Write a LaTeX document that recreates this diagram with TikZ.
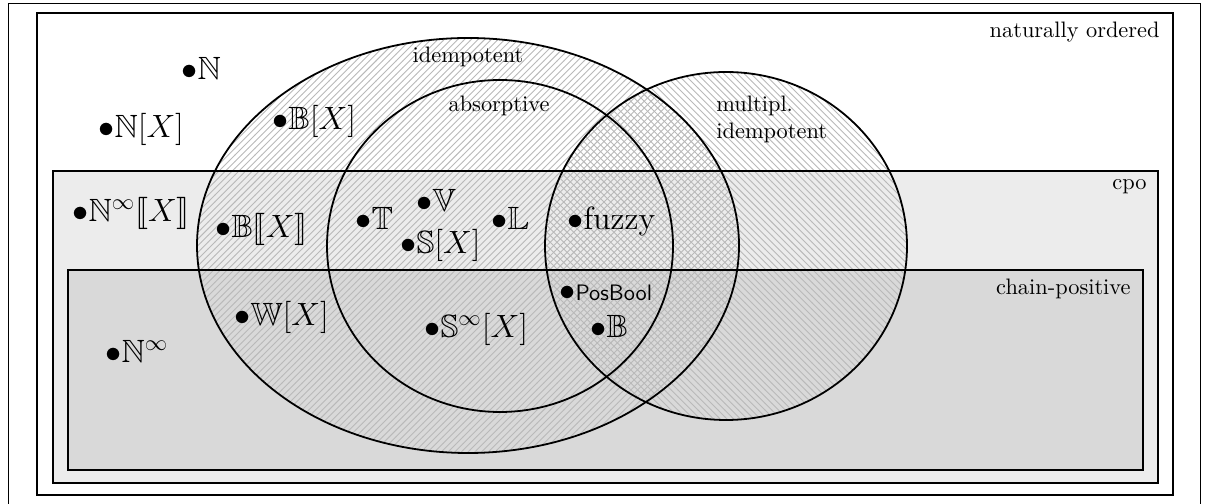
\documentclass[tikz,border=0pt]{standalone}
\usepackage{amssymb}
\usepackage{stmaryrd}
\usetikzlibrary{patterns}
\begin{document}
\begin{tikzpicture}[x=0.44703pt, y=-0.44703pt,
  frameline/.style={line width=0.4pt},
  setline/.style={line width=0.8pt},
  elt/.style={anchor=base west, inner sep=0pt, font=\Large, xshift=-3.6pt, yshift=-3.6pt},
  tag/.style={inner sep=0pt},
]
\useasboundingbox (0,0) rectangle (1208,504);

% region fills
\fill[gray!15] (53,171) rectangle (1158,483);
\fill[gray!30] (68,270) rectangle (1143,470);

% hatched classes
\fill[pattern=north east lines, pattern color=gray!55] (468,245.5) ellipse [x radius=271, y radius=207.5];
\fill[pattern=north west lines, pattern color=gray!55] (726,246) ellipse [x radius=181, y radius=174];

% outlines
\draw[frameline] (8,504) -- (8,3) -- (1200,3) -- (1200,504);
\draw[setline] (37,13) rectangle (1173,495);
\draw[setline] (53,171) rectangle (1158,483);
\draw[setline] (68,270) rectangle (1143,470);
\draw[setline] (468,245.5) ellipse [x radius=271, y radius=207.5];
\draw[setline] (500,246) ellipse [x radius=173, y radius=166];
\draw[setline] (726,246) ellipse [x radius=181, y radius=174];

% class names
\node[tag, anchor=base east] (natord) at (1160,37.5) {naturally ordered};
\node[tag, anchor=base east] (cpo) at (1147,190) {cpo};
\node[tag, anchor=base east] (chainpos) at (1131,295) {chain-positive};
\node[tag, anchor=base] (idem) at (468,63) {idempotent};
\node[tag, anchor=base] (absorp) at (499,112) {absorptive};
\node[tag, anchor=north west, align=left] (multidem) at (716,95.5) {multipl.\\idempotent};

% semirings
\node[elt] (nat) at (189,71) {$\bullet\mathbb{N}$};
\node[elt] (natx) at (106,129) {$\bullet\mathbb{N}[X]$};
\node[elt] (boolx) at (280,121) {$\bullet\mathbb{B}[X]$};
\node[elt] (natinfps) at (80,213) {$\bullet\mathbb{N}^\infty\llbracket X\rrbracket$};
\node[elt] (boolps) at (223,229) {$\bullet\mathbb{B}\llbracket X\rrbracket$};
\node[elt] (trop) at (363,221) {$\bullet\mathbb{T}$};
\node[elt] (vit) at (424,203) {$\bullet\mathbb{V}$};
\node[elt] (sorpx) at (408,245) {$\bullet\mathbb{S}[X]$};
\node[elt] (luk) at (499,221) {$\bullet\mathbb{L}$};
\node[elt] (fuzzy) at (575,221) {$\bullet$fuzzy};
\node[elt] (posbool) at (567,292) {$\bullet${\normalsize\textsf{PosBool}}};
\node[elt] (bool) at (598,329) {$\bullet\mathbb{B}$};
\node[elt] (sinfx) at (432,329) {$\bullet\mathbb{S}^\infty[X]$};
\node[elt] (whyx) at (242,317) {$\bullet\mathbb{W}[X]$};
\node[elt] (natinf) at (113,354) {$\bullet\mathbb{N}^\infty$};
\end{tikzpicture}
\end{document}
